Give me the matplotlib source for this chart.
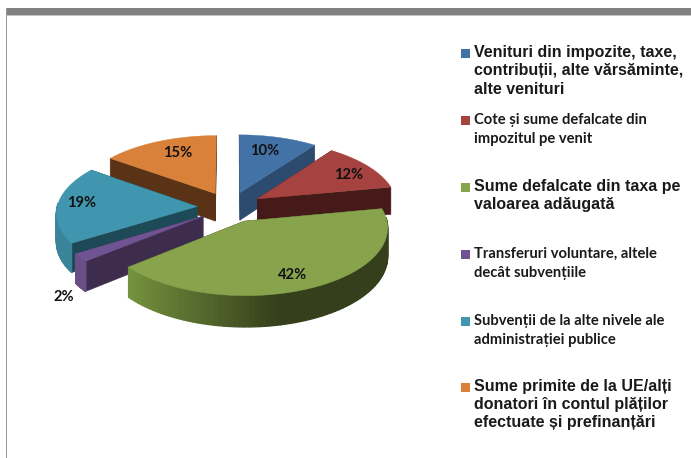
import numpy as np
import matplotlib
matplotlib.use("Agg")
import matplotlib.pyplot as plt
from matplotlib.patches import Polygon, Rectangle
from matplotlib.colors import to_rgb

# ---------- data ----------
values = [10, 12, 42, 2, 19, 15]
value_labels = ["10%", "12%", "42%", "2%", "19%", "15%"]
legend_labels = [
    "Venituri din impozite, taxe,\ncontribuții, alte vărsăminte,\nalte venituri",
    "Cote și sume defalcate din\nimpozitul pe venit",
    "Sume defalcate din taxa pe\nvaloarea adăugată",
    "Transferuri voluntare, altele\ndecât subvențiile",
    "Subvenții de la alte nivele ale\nadministrației publice",
    "Sume primite de la UE/alți\ndonatori în contul plăților\nefectuate și prefinanțări",
]
top_colors = ["#4372a6", "#a64340", "#87a44d", "#6f5392", "#3f96ae", "#da8139"]
cut_colors = ["#2d4b6f", "#451a18", "#3a431c", "#3d2c4b", "#1e4a57", "#5a3316"]
outer_light = ["#4f7fb5", "#a64340", "#76953f", "#6a4f87", "#3a8399", "#a86027"]
outer_dark = ["#2d4b6f", "#451a18", "#353f1b", "#4a3566", "#2a6070", "#5a3316"]
legend_big = [True, False, True, False, False, True]
label_radius = [0.75, 0.82, 0.78, 1.13, 0.82, 0.77]
label_shift_x = [-5, 0, -3, 0, -1, 7]
label_shift_y = [1, 3, 3, 34, -2, 0]
draw_order = [5, 0, 1, 4, 3, 2]

# ---------- projection settings ----------
CX, CY = 230, 207
W, H = 140, 65.3
K = 0.088
EXPLODE = 0.235
DEPTH = 28


def project(u, v, drop=0.0):
    p = 1 / (1 + K * v)
    return CX + W * u * p, CY - H * v * p + drop * p


fig = plt.figure(figsize=(6.91, 4.58), dpi=100)
ax = fig.add_axes([0, 0, 1, 1])
ax.set_xlim(0, 691)
ax.set_ylim(458, 0)
ax.axis("off")

# frame of the screenshot
ax.add_patch(Rectangle((6, 8), 685, 7, fc="#808080", ec="none"))
ax.add_patch(Rectangle((6, 15), 685, 1, fc="#c4c4c4", ec="none"))
ax.add_patch(Rectangle((6, 8), 1.3, 450, fc="#9a9a9a", ec="none"))

fractions = np.array(values, dtype=float) / sum(values)
ends = np.cumsum(fractions) * 2 * np.pi
starts = ends - fractions * 2 * np.pi
mids = (starts + ends) / 2


def lerp(a, b, t):
    a, b = np.array(to_rgb(a)), np.array(to_rgb(b))
    return tuple(a + (b - a) * t)


for i in draw_order:
    ox, oy = EXPLODE * np.sin(mids[i]), EXPLODE * np.cos(mids[i])
    th = np.linspace(starts[i], ends[i], 80)
    us, vs = ox + np.sin(th), oy + np.cos(th)

    # radial cut faces
    for edge in (starts[i], ends[i]):
        eu, ev = ox + np.sin(edge), oy + np.cos(edge)
        pts = [project(ox, oy), project(eu, ev), project(eu, ev, DEPTH), project(ox, oy, DEPTH)]
        ax.add_patch(Polygon(pts, closed=True, fc=cut_colors[i], ec=cut_colors[i], lw=0.4, zorder=2))

    # outer wall with horizontal gradient, only where it faces the viewer
    for a in range(len(th) - 1):
        if np.cos((th[a] + th[a + 1]) / 2) > 0.05:
            continue
        t = np.clip((np.sin((th[a] + th[a + 1]) / 2) + 1) / 2, 0, 1)
        t = np.clip((t - 0.1) / 0.5, 0, 1)
        col = lerp(outer_light[i], outer_dark[i], t)
        pts = [project(us[a], vs[a]), project(us[a + 1], vs[a + 1]),
               project(us[a + 1], vs[a + 1], DEPTH), project(us[a], vs[a], DEPTH)]
        ax.add_patch(Polygon(pts, closed=True, fc=col, ec=col, lw=0.9, zorder=2))

    # top face
    top = [project(ox, oy)] + [project(a, b) for a, b in zip(us, vs)]
    ax.add_patch(Polygon(top, closed=True, fc=top_colors[i], ec=top_colors[i], lw=0.3, zorder=2))

    # value label
    lx, ly = project(ox + label_radius[i] * np.sin(mids[i]), oy + label_radius[i] * np.cos(mids[i]))
    ax.text(lx + label_shift_x[i], ly + label_shift_y[i], value_labels[i], ha="center", va="center",
            fontsize=10.6, fontweight="bold", family="Lato", color="#111111", zorder=3)

# legend
legend_y = [53, 120, 187, 254, 321, 387]
for lab, y, big, col in zip(legend_labels, legend_y, legend_big, top_colors):
    ax.add_patch(Rectangle((461, y - 4.5), 9, 9, fc=col, ec="none"))
    step = 18 if big else 19
    for n, line in enumerate(lab.split("\n")):
        ax.text(474, y + n * step, line, ha="left", va="center", fontweight="bold", color="#1a1a1a",
                family="Liberation Sans" if big else "Lato", fontsize=11.5 if big else 10.6)

fig.savefig("out.png", dpi=100)
